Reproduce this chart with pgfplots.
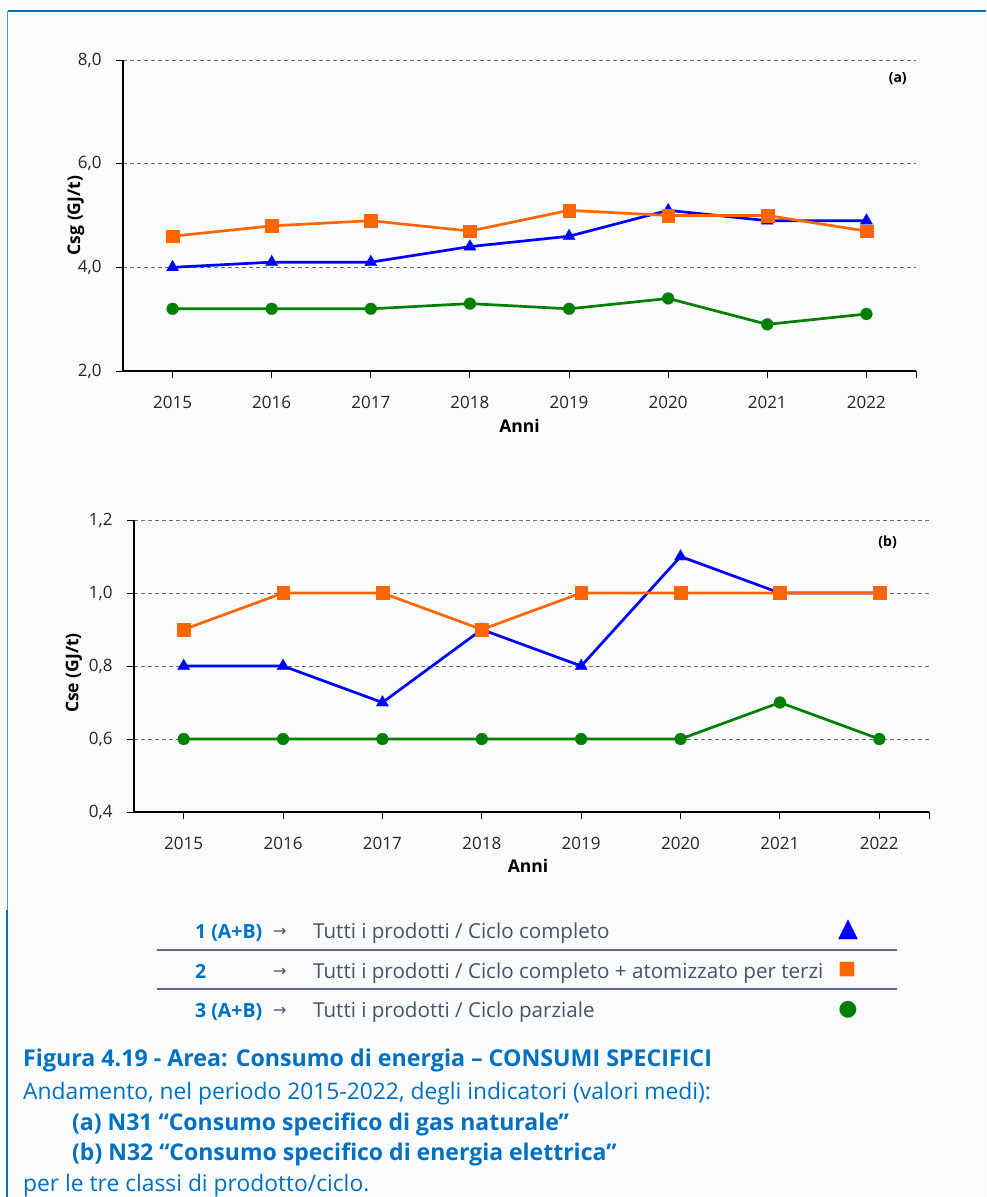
\documentclass[border=0pt]{standalone}
\usepackage{pgfplots}
\pgfplotsset{compat=1.18}
\usepackage{fontspec}
\setmainfont{Open Sans}
\newfontfamily\symfont{DejaVu Sans}

\definecolor{bgc}{RGB}{250,251,253}
\definecolor{framec}{RGB}{0,112,192}
\definecolor{capblue}{RGB}{0,112,192}
\definecolor{sblue}{RGB}{0,0,255}
\definecolor{sorange}{RGB}{255,102,0}
\definecolor{sgreen}{RGB}{0,128,0}
\definecolor{rulec}{RGB}{100,100,145}
\definecolor{descc}{RGB}{68,84,106}
\definecolor{gridc}{RGB}{110,110,110}

\pgfplotsset{
  csaxis/.style={
    scale only axis,
    anchor=south west,
    xmin=2014.5, xmax=2022.5,
    xtick={2015,...,2022},
    extra x ticks={2022.5}, extra x tick labels={},
    axis x line*=bottom, axis y line*=left,
    axis line style={line width=2pt, black, -},
    tick style={line width=1pt, black},
    major tick length=7pt,
    tick align=outside,
    ymajorgrids,
    grid style={gridc, dash pattern=on 4pt off 3pt, line width=0.9pt},
    tick label style={font=\fontsize{17}{18}\selectfont, text=black!85},
    /pgf/number format/assume math mode=true,
    x tick label style={yshift=-15pt, /pgf/number format/1000 sep={}},
    y tick label style={xshift=-11pt, /pgf/number format/.cd, fixed, fixed zerofill, precision=1, use comma},
    label style={font=\bfseries\fontsize{17.5}{19}\selectfont},
    clip=false,
  },
  s1/.style={sblue, line width=2.7pt, mark=triangle*, mark size=7pt, mark options={line width=0.3pt}},
  s2/.style={sorange, line width=2.7pt, mark=square*, mark size=6.4pt, mark options={line width=0.3pt}},
  s3/.style={sgreen, line width=2.7pt, mark=*, mark size=5.9pt, mark options={line width=0.3pt}},
}

\begin{document}
\begin{tikzpicture}
\useasboundingbox (0,0) rectangle (986pt,-1197pt);
\fill[bgc] (0,0) rectangle (986pt,-1197pt);
\draw[framec, line width=2pt] (7.5pt,-10.5pt) -- (986pt,-10.5pt);
\draw[framec!70, line width=1.5pt] (7.5pt,-10.5pt) -- (7.5pt,-910pt);
\draw[framec, line width=2.2pt] (7pt,-910pt) -- (7pt,-1197pt);

% (a) gas naturale
\begin{axis}[csaxis,
  at={(123pt,-371pt)}, width=793pt, height=311pt,
  ymin=2, ymax=8, ytick={2,4,6,8},
  xlabel={Anni}, ylabel={Csg (GJ/t)},
  xlabel style={at={(axis description cs:0.5,-0.177)}, anchor=center},
  ylabel style={at={(axis description cs:-0.0593,0.5)}, anchor=center},
]
\addplot[s3] coordinates {(2015,3.2) (2016,3.2) (2017,3.2) (2018,3.3) (2019,3.2) (2020,3.4) (2021,2.9) (2022,3.1)};
\addplot[s1] coordinates {(2015,4.0) (2016,4.1) (2017,4.1) (2018,4.4) (2019,4.6) (2020,5.1) (2021,4.9) (2022,4.9)};
\addplot[s2] coordinates {(2015,4.6) (2016,4.8) (2017,4.9) (2018,4.7) (2019,5.1) (2020,5.0) (2021,5.0) (2022,4.7)};
\node[font=\bfseries\fontsize{14}{15}\selectfont] at (rel axis cs:0.977,0.939) {(a)};
\end{axis}

% (b) energia elettrica
\begin{axis}[csaxis,
  at={(134pt,-812pt)}, width=795pt, height=292pt,
  ymin=0.4, ymax=1.2, ytick={0.4,0.6,0.8,1.0,1.2},
  xlabel={Anni}, ylabel={Cse (GJ/t)},
  xlabel style={at={(axis description cs:0.4956,-0.185)}, anchor=center},
  ylabel style={at={(axis description cs:-0.0755,0.476)}, anchor=center},
]
\addplot[s3] coordinates {(2015,0.6) (2016,0.6) (2017,0.6) (2018,0.6) (2019,0.6) (2020,0.6) (2021,0.7) (2022,0.6)};
\addplot[s1] coordinates {(2015,0.8) (2016,0.8) (2017,0.7) (2018,0.9) (2019,0.8) (2020,1.1) (2021,1.0) (2022,1.0)};
\addplot[s2] coordinates {(2015,0.9) (2016,1.0) (2017,1.0) (2018,0.9) (2019,1.0) (2020,1.0) (2021,1.0) (2022,1.0)};
\node[font=\bfseries\fontsize{14}{15}\selectfont] at (rel axis cs:0.948,0.925) {(b)};
\end{axis}

% legenda
\draw[rulec, line width=2pt] (157pt,-949.5pt) -- (897pt,-949.5pt);
\draw[rulec, line width=2pt] (157pt,-989pt) -- (897pt,-989pt);
\begin{scope}[every node/.style={inner sep=0pt, anchor=base west}]
\node[text=capblue, font=\bfseries\fontsize{19.5}{21}\selectfont] at (195pt,-938pt) {1 (A+B)};
\node[text=capblue, font=\bfseries\fontsize{19.5}{21}\selectfont] at (195pt,-978pt) {2};
\node[text=capblue, font=\bfseries\fontsize{19.5}{21}\selectfont] at (195pt,-1017pt) {3 (A+B)};
\node[text=descc, font=\symfont\fontsize{16}{17}\selectfont] at (273pt,-936pt) {→};
\node[text=descc, font=\symfont\fontsize{16}{17}\selectfont] at (273pt,-976pt) {→};
\node[text=descc, font=\symfont\fontsize{16}{17}\selectfont] at (273pt,-1015pt) {→};
\node[text=descc, font=\fontsize{20.6}{22}\selectfont] at (313pt,-938pt) {Tutti i prodotti / Ciclo completo};
\node[text=descc, font=\fontsize{20.6}{22}\selectfont] at (313pt,-978pt) {Tutti i prodotti / Ciclo completo + atomizzato per terzi};
\node[text=descc, font=\fontsize{20.6}{22}\selectfont] at (313pt,-1017pt) {Tutti i prodotti / Ciclo parziale};
\end{scope}
\node[text=sblue, font=\symfont\fontsize{26}{26}\selectfont, inner sep=0pt] at (848pt,-930pt) {▲};
\node[text=sorange, font=\symfont\fontsize{19}{19}\selectfont, inner sep=0pt] at (847pt,-970pt) {■};
\node[text=sgreen, font=\symfont\fontsize{22}{22}\selectfont, inner sep=0pt] at (848pt,-1010pt) {●};

% didascalia
\begin{scope}[every node/.style={inner sep=0pt, anchor=base west, text=capblue}]
\node[font=\bfseries\fontsize{23.2}{25}\selectfont] at (23pt,-1066.5pt) {Figura 4.19 - Area: Consumo di energia – CONSUMI SPECIFICI};
\node[font=\fontsize{22.8}{25}\selectfont] at (23pt,-1099pt) {Andamento, nel periodo 2015-2022, degli indicatori (valori medi):};
\node[font=\bfseries\fontsize{23}{25}\selectfont] at (72pt,-1130pt) {(a) N31 “Consumo specifico di gas naturale”};
\node[font=\bfseries\fontsize{23}{25}\selectfont] at (72pt,-1160.5pt) {(b) N32 “Consumo specifico di energia elettrica”};
\node[font=\fontsize{22.8}{25}\selectfont] at (23pt,-1191pt) {per le tre classi di prodotto/ciclo.};
\end{scope}
\end{tikzpicture}
\end{document}
